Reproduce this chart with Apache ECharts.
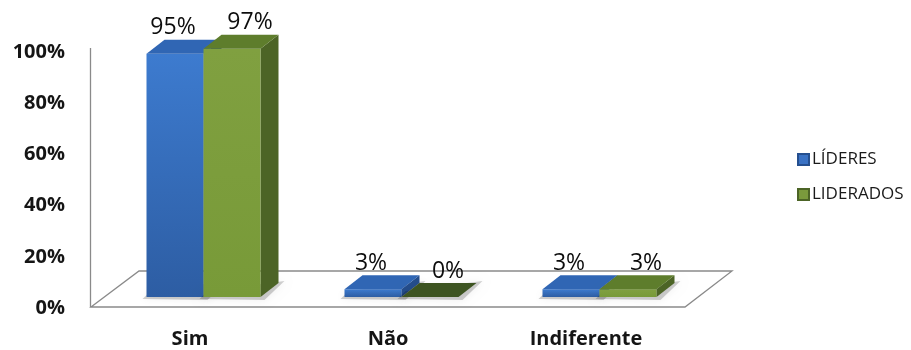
<!DOCTYPE html>
<html><head><meta charset="utf-8">
<script src="https://cdn.jsdelivr.net/npm/echarts@6/dist/echarts.min.js"></script>
<style>html,body{margin:0;padding:0;background:#fff}#c{width:911px;height:350px}</style>
</head><body><div id="c"></div>
<script>
const categories = ['Sim', 'Não', 'Indiferente'];
const seriesNames = ['LÍDERES', 'LIDERADOS'];
const lideres = [95, 3, 3];
const liderados = [97, 0, 3];
const yTickValues = [0, 20, 40, 60, 80, 100];
const yTickLabels = ['0%', '20%', '40%', '60%', '80%', '100%'];

const DX = 18, DY = -14, OFFX = 13.5, OFFY = -11, BW = 57;
const FONT = '"Open Sans", "DejaVu Sans", sans-serif';

const styles = [
  { front: ['#3d7bcf', '#2d5da3'], side: '#244d8c', top: '#3066b4', topZero: '#244d8c', legend: '#3a72c4', border: '#254f8f', labelDx: -2 },
  { front: ['#80a040', '#789a38'], side: '#4c6426', top: '#5e7d2c', topZero: '#3d5421', legend: '#7a9a3c', border: '#4c6426', labelDx: 18 }
];

function makeRender(k) {
  const st = styles[k];
  return function (params, api) {
    const idx = api.value(0), val = api.value(1);
    const base = api.coord([idx, 0]);
    const top = api.coord([idx, val]);
    const cx = base[0] + OFFX;
    const x0 = k === 0 ? cx - BW : cx;
    const x1 = x0 + BW;
    const yb = base[1] + OFFY;
    const yt = top[1] + OFFY;
    const children = [
      { type: 'polygon', z2: -10, shape: { points: [[x0 - 4, yb + 2], [x0 + 4, yb - 6], [x1 + DX + 6, yb + DY - 2], [x1 + 4, yb + 3]] },
        style: { fill: 'rgba(0,0,0,0.18)', shadowBlur: 8, shadowColor: 'rgba(0,0,0,0.35)' } },
      { type: 'polygon', shape: { points: [[x1, yt], [x1 + DX, yt + DY], [x1 + DX, yb + DY], [x1, yb]] }, style: { fill: st.side } },
      { type: 'rect', shape: { x: x0, y: yt, width: BW, height: Math.max(0, yb - yt) },
        style: { fill: new echarts.graphic.LinearGradient(0, 0, 0, 1, [{ offset: 0, color: st.front[0] }, { offset: 1, color: st.front[1] }]) } },
      { type: 'polygon', shape: { points: [[x0, yt], [x0 + DX, yt + DY], [x1 + DX, yt + DY], [x1, yt]] }, style: { fill: val === 0 ? st.topZero : st.top } },
      { type: 'text', z2: 100, style: { text: val + '%', x: (x0 + x1) / 2 + st.labelDx, y: yt - 26, align: 'center', verticalAlign: 'middle',
        font: '23px ' + FONT, fill: '#0d0d0d' } }
    ];
    return { type: 'group', children };
  };
}

function renderFloor(params, api) {
  const cs = params.coordSys;
  const fl = [cs.x, cs.y + cs.height - 1];
  const fr = [cs.x + cs.width, cs.y + cs.height - 1];
  const bl = [cs.x + 48, cs.y + cs.height - 37];
  const br = [cs.x + cs.width + 47, cs.y + cs.height - 37];
  return { type: 'group', children: [
    { type: 'polygon', shape: { points: [fl, bl, br, fr] }, style: { fill: '#fff', stroke: '#8a8a8a', lineWidth: 1.3 } },
    { type: 'line', shape: { x1: cs.x - 0.5, y1: cs.y - 4, x2: cs.x - 0.5, y2: cs.y + cs.height - 1 }, style: { stroke: '#8a8a8a', lineWidth: 1.3 } }
  ] };
}

const chart = echarts.init(document.getElementById('c'), null, { renderer: 'canvas' });
chart.setOption({
  animation: false,
  backgroundColor: '#fff',
  grid: { left: 91, right: 226, top: 52, bottom: 42 },
  legend: {
    orient: 'vertical', left: 797, top: 151, padding: 0, itemWidth: 11, itemHeight: 11, itemGap: 18,
    icon: 'rect', data: seriesNames,
    textStyle: { fontFamily: FONT, fontSize: 17, color: '#1a1a1a', padding: [0, 0, 0, -2] }
  },
  xAxis: {
    type: 'category', data: categories,
    axisLine: { show: false }, axisTick: { show: false },
    axisLabel: { margin: 21, fontFamily: FONT, fontSize: 20, fontWeight: 'bold', color: '#151515' }
  },
  yAxis: {
    type: 'value', min: yTickValues[0], max: yTickValues[yTickValues.length - 1], interval: 20,
    axisLine: { show: false }, axisTick: { show: false }, splitLine: { show: false },
    axisLabel: { margin: 26, fontFamily: FONT, fontSize: 20, fontWeight: 'bold', color: '#151515',
      formatter: v => yTickLabels[yTickValues.indexOf(v)] }
  },
  series: [
    { type: 'custom', name: 'floor', renderItem: renderFloor, data: [[0, 0]], silent: true, z: 1 },
    { type: 'custom', name: seriesNames[0], renderItem: makeRender(0), z: 2,
      itemStyle: { color: styles[0].legend, borderColor: styles[0].border, borderWidth: 1 },
      data: lideres.map((v, i) => [i, v]) },
    { type: 'custom', name: seriesNames[1], renderItem: makeRender(1), z: 3,
      itemStyle: { color: styles[1].legend, borderColor: styles[1].border, borderWidth: 1 },
      data: liderados.map((v, i) => [i, v]) }
  ]
});
</script></body></html>
